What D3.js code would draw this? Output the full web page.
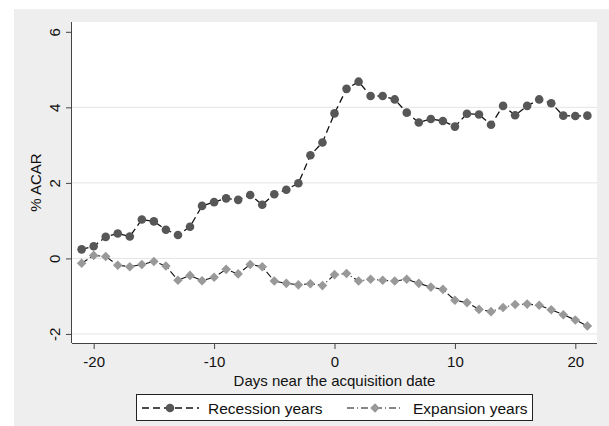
<!DOCTYPE html>
<html><head><meta charset="utf-8">
<script src="https://cdn.jsdelivr.net/npm/d3@7"></script>
<style>body{margin:0;background:#fff}svg{display:block;font-family:"Liberation Sans",Arial,sans-serif}</style>
</head><body><svg id="c" width="609" height="426"></svg>
<script>
const days = d3.range(-21, 22);
const recession = [0.24,0.32,0.57,0.66,0.58,1.03,0.98,0.76,0.62,0.84,1.39,1.49,1.59,1.55,1.68,1.42,1.70,1.82,1.99,2.73,3.07,3.84,4.49,4.68,4.30,4.30,4.21,3.86,3.60,3.69,3.64,3.49,3.83,3.81,3.54,4.04,3.79,4.04,4.21,4.11,3.78,3.77,3.78];
const expansion = [-0.13,0.08,0.05,-0.18,-0.22,-0.16,-0.08,-0.20,-0.58,-0.45,-0.59,-0.50,-0.29,-0.41,-0.16,-0.22,-0.60,-0.66,-0.70,-0.67,-0.72,-0.43,-0.40,-0.60,-0.55,-0.58,-0.60,-0.55,-0.66,-0.76,-0.82,-1.11,-1.17,-1.35,-1.41,-1.30,-1.22,-1.21,-1.24,-1.36,-1.49,-1.63,-1.79];
const xTicks = [-20,-10,0,10,20];
const yTicks = [-2,0,2,4,6];
const gridTicks = [-2,0,2,4];
const seriesNames = ["Recession years","Expansion years"];

const svg = d3.select("#c");
svg.append("rect").attr("x",14).attr("y",9).attr("width",595).attr("height",417).attr("fill","#eeeeee");
const L=72,R=597,T=22,B=343;
svg.append("rect").attr("x",L).attr("y",T).attr("width",R-L).attr("height",B-T).attr("fill","#fff");
const x = d3.scaleLinear().domain([-21.8,21.8]).range([L,R]);
const y = d3.scaleLinear().domain([-2.24,6.26]).range([B,T]);
const fmt = d => String(d);

svg.append("g").selectAll("line").data(gridTicks).join("line")
  .attr("x1",L).attr("x2",R).attr("y1",d=>y(d)).attr("y2",d=>y(d))
  .attr("stroke","#e4e4e4").attr("stroke-width",1);

const xa = svg.append("g").attr("transform",`translate(0,${B})`)
  .call(d3.axisBottom(x).tickValues(xTicks).tickSize(6).tickPadding(7).tickFormat(fmt));
xa.select(".domain").attr("d",`M${L},0.5H${R}`).attr("stroke","#444");
xa.selectAll(".tick line").attr("stroke","#444");
xa.selectAll("text").attr("font-size",15).attr("fill","#111").attr("font-family","Liberation Sans, Arial, sans-serif");

const ya = svg.append("g").attr("transform",`translate(${L},0)`)
  .call(d3.axisLeft(y).tickValues(yTicks).tickSize(6).tickFormat(fmt));
ya.select(".domain").attr("d",`M-0.5,${T}V${B}`).attr("stroke","#444");
ya.selectAll(".tick line").attr("stroke","#444");
ya.selectAll(".tick text").attr("font-size",15).attr("fill","#111").attr("font-family","Liberation Sans, Arial, sans-serif")
  .attr("x",0).attr("y",0).attr("dy",null).attr("text-anchor","middle").attr("dominant-baseline","central")
  .attr("transform","translate(-18,0) rotate(-90)");

svg.append("text").attr("transform",`translate(35,${(T+B)/2}) rotate(-90)`)
  .attr("text-anchor","middle").attr("dominant-baseline","central").attr("font-size",15).attr("fill","#111").text("% ACAR");
svg.append("text").attr("x",x(0)).attr("y",386).attr("text-anchor","middle").attr("font-size",15).attr("fill","#111").text("Days near the acquisition date");

const line = d3.line().x((d,i)=>x(days[i])).y(d=>y(d));
svg.append("path").datum(recession).attr("d",line).attr("fill","none").attr("stroke","#111").attr("stroke-width",1.3).attr("stroke-dasharray","7,4");
svg.append("path").datum(expansion).attr("d",line).attr("fill","none").attr("stroke","#111").attr("stroke-width",1.1).attr("stroke-dasharray","7,3,1,3");

svg.append("g").selectAll("circle").data(recession).join("circle")
  .attr("cx",(d,i)=>x(days[i])).attr("cy",d=>y(d)).attr("r",4.3).attr("fill","#575757");
const dia = d3.symbol().type(d3.symbolSquare).size(46);
svg.append("g").selectAll("path").data(expansion).join("path")
  .attr("d",dia).attr("transform",(d,i)=>`translate(${x(days[i])},${y(d)}) rotate(45)`).attr("fill","#999999");

// legend
svg.append("rect").attr("x",136.5).attr("y",394.5).attr("width",396).attr("height",26).attr("fill","#fff").attr("stroke","#222");
const ly=408;
svg.append("line").attr("x1",142).attr("x2",199).attr("y1",ly).attr("y2",ly).attr("stroke","#111").attr("stroke-width",1.3).attr("stroke-dasharray","7,4");
svg.append("circle").attr("cx",170).attr("cy",ly).attr("r",4.3).attr("fill","#575757");
svg.append("text").attr("x",208).attr("y",ly).attr("dominant-baseline","central").attr("font-size",15.5).attr("fill","#111").text(seriesNames[0]);
svg.append("line").attr("x1",347).attr("x2",403).attr("y1",ly).attr("y2",ly).attr("stroke","#111").attr("stroke-width",1.1).attr("stroke-dasharray","7,3,1,3");
svg.append("path").attr("d",dia).attr("transform",`translate(375,${ly}) rotate(45)`).attr("fill","#999999");
svg.append("text").attr("x",413).attr("y",ly).attr("dominant-baseline","central").attr("font-size",15.5).attr("fill","#111").text(seriesNames[1]);
</script></body></html>
